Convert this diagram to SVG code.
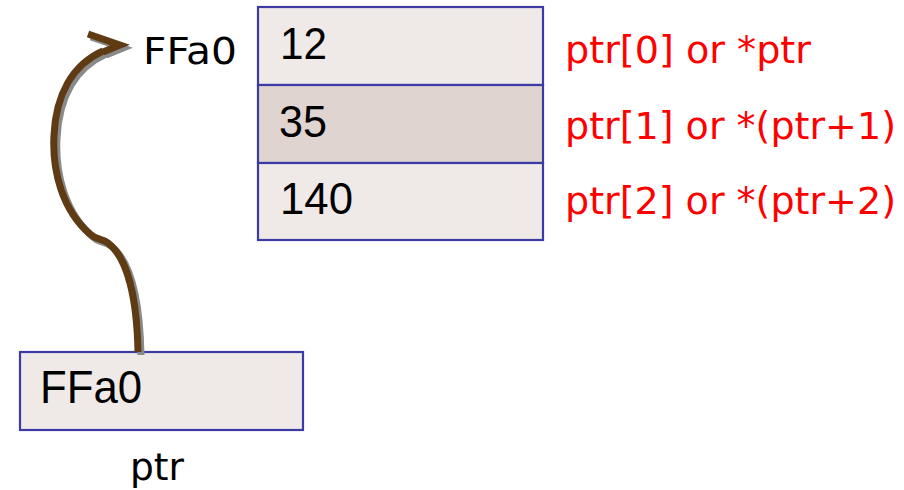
<svg xmlns="http://www.w3.org/2000/svg" width="904" height="490" viewBox="0 0 904 490">
  <style>
    .cell { stroke: #3b3ba3; stroke-width: 2.2; }
    .light { fill: #efeae8; }
    .dark { fill: #e0d4d1; }
    .num { font-family: "Liberation Sans", Arial, sans-serif; font-size: 44px; fill: #000; }
    .lbl { font-family: "DejaVu Sans", "Liberation Sans", sans-serif; font-size: 38px; fill: #000; }
    .red { font-family: "DejaVu Sans", "Liberation Sans", sans-serif; font-size: 37px; fill: #ff0000; }
    .arrow { fill: none; stroke: #5e3b13; stroke-width: 7; stroke-linejoin: miter; stroke-linecap: butt; }
    .shadow { fill: none; stroke: #8a8a8a; stroke-width: 7; stroke-linejoin: miter; }
  </style>
  <rect width="904" height="490" fill="#ffffff"/>

  <!-- array in memory -->
  <g id="array">
    <rect class="cell light" x="258" y="7" width="285" height="78"/>
    <rect class="cell dark" x="258" y="85" width="285" height="78"/>
    <rect class="cell light" x="258" y="163" width="285" height="77"/>
    <text class="num" x="280" y="59" textLength="47" lengthAdjust="spacingAndGlyphs">12</text>
    <text class="num" x="279" y="137" textLength="48" lengthAdjust="spacingAndGlyphs">35</text>
    <text class="num" x="280" y="214" textLength="73" lengthAdjust="spacingAndGlyphs">140</text>
  </g>

  <g id="address-label">
    <text class="lbl" x="143" y="64" textLength="94" lengthAdjust="spacingAndGlyphs">FFa0</text>
  </g>

  <g id="element-labels">
    <text class="red" x="565" y="63" textLength="246" lengthAdjust="spacingAndGlyphs">ptr[0] or *ptr</text>
    <text class="red" x="565" y="139" textLength="331" lengthAdjust="spacingAndGlyphs">ptr[1] or *(ptr+1)</text>
    <text class="red" x="565" y="214" textLength="331" lengthAdjust="spacingAndGlyphs">ptr[2] or *(ptr+2)</text>
  </g>

  <!-- pointer variable -->
  <g id="ptr">
    <rect class="cell light" x="20" y="352" width="283" height="78"/>
    <text class="num" x="40" y="403" style="font-size:46px" textLength="102" lengthAdjust="spacingAndGlyphs">FFa0</text>
    <text class="lbl" x="130" y="480" textLength="54" lengthAdjust="spacingAndGlyphs">ptr</text>
  </g>

  <!-- connector from ptr to the array start -->
  <g id="connectors">
    <g transform="translate(3,3)">
      <path class="shadow" d="M138,352 C137,300 128,258 108,243 C102,238 96,240 90,234 C62,210 52,170 54,135 C56,95 72,65 103,51"/>
      <polyline class="shadow" points="88,34 120,45 103,52"/>
    </g>
    <path class="arrow" d="M138,352 C137,300 128,258 108,243 C102,238 96,240 90,234 C62,210 52,170 54,135 C56,95 72,65 103,51"/>
    <polyline class="arrow" points="88,34 120,45 103,52"/>
  </g>
</svg>
